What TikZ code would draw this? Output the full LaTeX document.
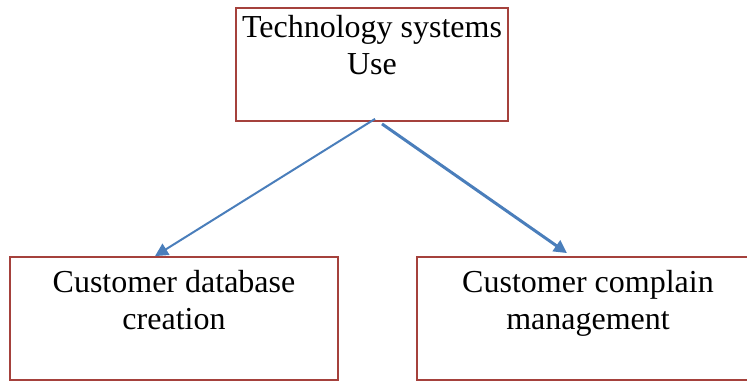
\documentclass[tikz,border=0pt]{standalone}
\usepackage{fontspec}
\setmainfont{Liberation Serif}
\usetikzlibrary{arrows.meta,calc}
\definecolor{boxred}{RGB}{165,65,60}
\definecolor{linkblue}{RGB}{74,126,187}
\begin{document}
\begin{tikzpicture}[x=1pt,y=-1pt,
  box/.style={draw=boxred,line width=1.8pt,rectangle,inner sep=0pt},
  lbl/.style={inner sep=0pt,anchor=north,align=center,text=black,
    font=\fontsize{32}{37.5}\selectfont},
  link/.style={draw=linkblue,-{Triangle[length=13pt,width=13pt]}}]
  \useasboundingbox (0,0) rectangle (747,381);
  % boxes
  \node[box,minimum width=272pt,minimum height=113pt] (top) at (372,64.5) {};
  \node[box,minimum width=328pt,minimum height=123pt] (left) at (174,318.5) {};
  \node[box,minimum width=342pt,minimum height=123pt] (right) at (588,318.5) {};
  % labels
  \node[lbl] (toptext) at (372,15) {Technology systems\\Use};
  \node[lbl] (lefttext) at (174,270) {Customer database\\creation};
  \node[lbl] (righttext) at (588,270) {Customer complain\\management};
  % connectors
  \coordinate (s1) at ($(top.south)+(3,-3)$);
  \coordinate (s2) at ($(top.south)+(10,2)$);
  \coordinate (e1) at ($(left.north)+(-19,0)$);
  \coordinate (e2) at ($(right.north)+(-21,-3)$);
  \draw[link,line width=2pt] (s1) -- (e1);
  \draw[link,line width=3pt] (s2) -- (e2);
\end{tikzpicture}
\end{document}
